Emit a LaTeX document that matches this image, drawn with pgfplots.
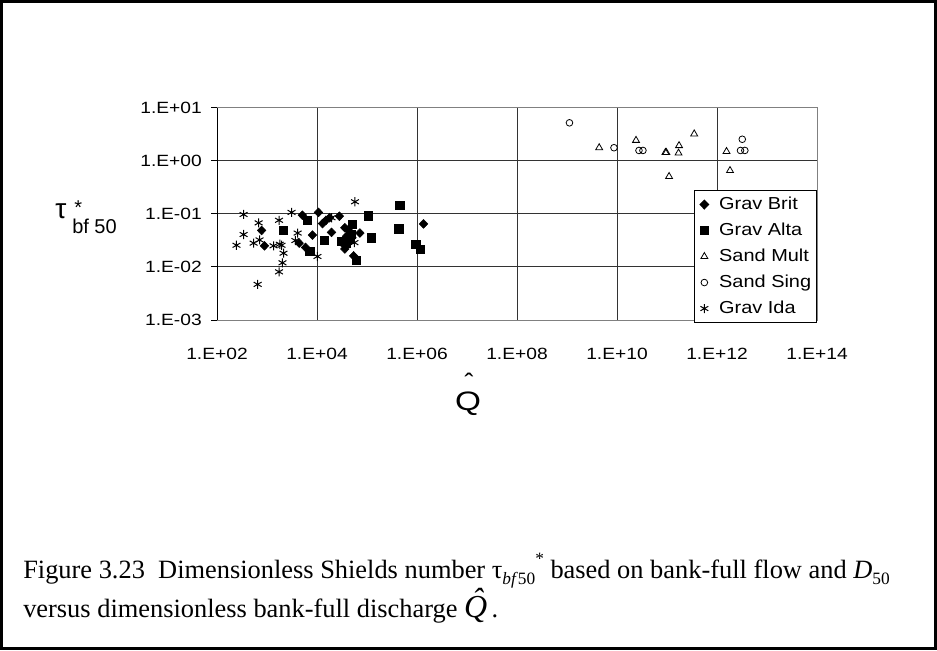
\documentclass[border=0pt]{standalone}
\usepackage{fontspec}
\usepackage{graphicx}
\usepackage{pgfplots}
\pgfplotsset{compat=1.18}
\setmainfont{Liberation Serif}
\newfontfamily\arial{Liberation Sans}
\newcommand\tl[1]{\scalebox{1.18}[1]{#1}}
\newcommand\lgd[1]{\scalebox{1.15}[1]{#1}}
\newcommand\subs[1]{\raisebox{-0.25em}{\fontsize{13}{13}\selectfont #1}}
\newcommand\sups[1]{\raisebox{0.5em}{\fontsize{13}{13}\selectfont #1}}
\begin{document}
\begin{tikzpicture}
\begin{axis}[
  at={(162.75pt,247.5pt)}, anchor=south west,
  scale only axis, width=450pt, height=159pt,
  xmode=log, ymode=log,
  xmin=1e2, xmax=1e14, ymin=1e-3, ymax=1e1,
  xtick={1e2,1e4,1e6,1e8,1e10,1e12,1e14},
  xticklabels={\tl{1.E+02},\tl{1.E+04},\tl{1.E+06},\tl{1.E+08},\tl{1.E+10},\tl{1.E+12},\tl{1.E+14}},
  ytick={1e-3,1e-2,1e-1,1e0,1e1},
  yticklabels={\tl{1.E-03},\tl{1.E-02},\tl{1.E-01},\tl{1.E+00},\tl{1.E+01}},
  xminorticks=false, yminorticks=false,
  ytick pos=left, xtick pos=bottom,
  grid=major,
  major grid style={black!80, line width=0.75pt},
  axis line style={draw=black!50, line width=0.75pt},
  tick align=outside,
  major tick length=4.5pt,
  xtick style={draw=none},
  ytick style={black, line width=0.75pt},
  ticklabel style={font=\arial\fontsize{12.2}{14}\selectfont},
  xticklabel style={inner sep=0pt, anchor=north, yshift=-16.3pt},
  yticklabel style={inner sep=0pt, anchor=east, xshift=-6.75pt},
  legend cell align=left,
  legend style={at={(1,0.613)}, anchor=north east, draw=black, line width=0.75pt, fill=white,
    inner sep=1pt, font=\arial\fontsize{13}{15}\selectfont, row sep=0.5pt,
    nodes={text height=10pt, text depth=3pt, inner sep=3pt},
    /tikz/every even column/.append style={column sep=2pt}},
  legend image code/.code={\path (-6.25pt,0pt) (7.75pt,0pt); \draw plot coordinates {(0pt,0pt)};},
]
\addplot[only marks, mark=diamond*, mark size=3.3pt, mark options={xscale=1.3, fill=black, draw=black}] coordinates {
(7.8e2,0.049) (8.9e2,0.0251) (5.1e3,0.095) (4.4e3,0.0282) (5.9e3,0.0234) (8.1e3,0.040)
(1.07e4,0.107) (1.29e4,0.066) (1.51e4,0.076) (1.78e4,0.085) (2.8e4,0.091) (1.95e4,0.045)
(3.6e4,0.055) (3.9e4,0.038) (7.2e4,0.0437) (3.6e4,0.0219) (5.4e4,0.0162) (1.35e6,0.065)
(4.2e4,0.050) (4.6e4,0.0316) (3.3e4,0.0275) (5.0e4,0.0355)
};
\addlegendentry{\lgd{Grav Brit}}
\addplot[only marks, mark=square*, mark size=3.1pt, mark options={fill=black, draw=black}] coordinates {
(2.14e3,0.049) (6.3e3,0.076) (7.2e3,0.0195) (1.41e4,0.0324) (3.1e4,0.0302) (5.1e4,0.063)
(4.9e4,0.041) (4.7e4,0.034) (6.2e4,0.0132) (1.07e5,0.093) (1.23e5,0.0355) (4.5e5,0.145)
(4.3e5,0.0525) (9.5e5,0.0269) (1.15e6,0.0219) (3.8e4,0.028)
};
\addlegendentry{\lgd{Grav Alta}}
\addplot[only marks, mark=triangle, mark size=3pt, mark options={draw=black, line width=0.6pt}] coordinates {
(4.4e9,1.78) (2.4e10,2.45) (9.3e10,1.45) (9.7e10,1.45) (1.74e11,1.95) (1.7e11,1.41)
(3.5e11,3.24) (1.1e11,0.51) (1.55e12,1.51) (1.82e12,0.66)
};
\addlegendentry{\lgd{Sand Mult}}
\addplot[only marks, mark=o, mark size=2.5pt, mark options={draw=black, line width=0.6pt}] coordinates {
(1.12e9,5.25) (8.7e9,1.78) (2.75e10,1.58) (3.3e10,1.58) (3.2e12,2.57) (2.95e12,1.58) (3.6e12,1.58)
};
\addlegendentry{\lgd{Sand Sing}}
\addplot[only marks, mark=asterisk, mark size=3.4pt, mark options={draw=black, line width=0.75pt}] coordinates {
(3.4e2,0.098) (6.8e2,0.068) (1.74e3,0.076) (3.1e3,0.107) (3.4e2,0.041) (2.45e2,0.0257)
(5.4e2,0.0282) (7.1e2,0.0324) (1.35e3,0.0251) (1.95e3,0.0257) (2.14e3,0.0182) (2.04e3,0.0120)
(1.74e3,0.0081) (6.5e2,0.0047) (4.1e3,0.0437) (3.7e3,0.0316) (1.02e4,0.0158) (1.95e4,0.085)
(5.75e4,0.170) (5.6e4,0.0288) (1.8e3,0.0269)
};
\addlegendentry{\lgd{Grav Ida}}
\draw[black, line width=0.75pt] (rel axis cs:0,0) -- (rel axis cs:0,1);
\end{axis}
\begin{scope}[x=0.75pt, y=-0.75pt, shift={(0pt,487.5pt)}]
\draw[line width=2.25pt] (1.5,1.5) rectangle (935.5,648.5);
\node[anchor=base west, inner sep=0pt, font=\arial\fontsize{21}{21}\selectfont] at (55,219) {τ};
\node[anchor=base west, inner sep=0pt, font=\arial\fontsize{15}{15}\selectfont] at (74,215) {*};
\node[anchor=base west, inner sep=0pt, font=\arial\fontsize{15}{15}\selectfont] at (72,234) {bf 50};
\node[anchor=base, inner sep=0pt, font=\arial\fontsize{20}{20}\selectfont] at (468,410) {\scalebox{1.25}[1]{Q}};
\node[anchor=base, inner sep=0pt, font=\arial\fontsize{20}{20}\selectfont] at (469,392) {ˆ};
\node[anchor=base west, inner sep=0pt] at (23,578) {\fontsize{19.8}{22}\selectfont Figure 3.23\ \ Dimensionless Shields number τ\subs{\textit{bf}50}\sups{*} based on bank-full flow and \textit{D}\subs{50}};
\node[anchor=base west, inner sep=0pt] at (23,617) {\fontsize{19.8}{22}\selectfont versus dimensionless bank-full discharge {\fontsize{24}{24}\selectfont\itshape\accent"02C6 Q}\,.};
\end{scope}
\end{tikzpicture}
\end{document}
